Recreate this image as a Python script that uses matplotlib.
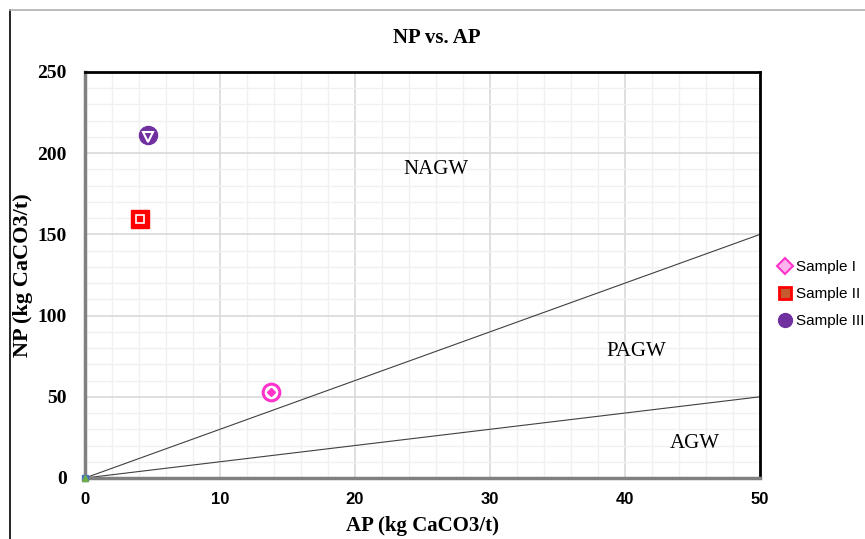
import numpy as np
import matplotlib.pyplot as plt
from matplotlib.lines import Line2D
from matplotlib.ticker import MultipleLocator

# samples (AP, NP)
samples = ['Sample I', 'Sample II', 'Sample III']
ap = [13.8, 4.1, 4.7]
np_vals = [53, 159.5, 211]
colors = ['#FF33CC', '#FF0000', '#7030A0']

# criteria lines: NP/AP = 3 and NP/AP = 1
line_ap = [0, 50]
ratio_hi = 3
ratio_lo = 1

zones = ['NAGW', 'PAGW', 'AGW']
zone_x = [26.0, 40.8, 45.2]
zone_y = [190, 78, 21]

serif = 'Liberation Serif'
sans = 'Liberation Sans'

fig = plt.figure(figsize=(8.65, 5.39), dpi=100)
ax = fig.add_axes([85/865, 1-478/539, 675/865, 406/539])

ax.set_xlim(0, 50)
ax.set_ylim(0, 250)
ax.xaxis.set_major_locator(MultipleLocator(10))
ax.xaxis.set_minor_locator(MultipleLocator(2))
ax.yaxis.set_major_locator(MultipleLocator(50))
ax.yaxis.set_minor_locator(MultipleLocator(10))
ax.grid(which='major', color='#d9d9d9', lw=1.2)
ax.grid(which='minor', color='#f0f0f0', lw=1.0)
ax.set_axisbelow(True)
ax.tick_params(which='both', length=0)
ax.tick_params(axis='x', pad=10)
ax.tick_params(axis='y', pad=13)
for lab in ax.get_xticklabels():
    lab.set_fontfamily(sans)
    lab.set_fontweight('bold')
    lab.set_fontsize(12)
for lab in ax.get_yticklabels():
    lab.set_fontfamily(serif)
    lab.set_fontweight('bold')
    lab.set_fontsize(14)

ax.spines['top'].set_color('black')
ax.spines['right'].set_color('black')
ax.spines['top'].set_linewidth(2)
ax.spines['right'].set_linewidth(2)
ax.spines['left'].set_color('#808080')
ax.spines['bottom'].set_color('#808080')
ax.spines['left'].set_linewidth(2.5)
ax.spines['bottom'].set_linewidth(2.5)

ax.plot(line_ap, [v * ratio_hi for v in line_ap], color='#404040', lw=0.8)
ax.plot(line_ap, [v * ratio_lo for v in line_ap], color='#404040', lw=0.8)
ax.plot([0], [0], marker='s', ms=4, color='#4472C4', clip_on=False, zorder=4)
ax.plot([0], [0], marker='^', ms=4, color='#70AD47', clip_on=False, zorder=4)

# Sample I: ring with diamond centre
ax.plot(ap[0], np_vals[0], marker='o', ms=12, mfc='white', mec=colors[0], mew=2.2, ls='none', zorder=5)
ax.plot(ap[0], np_vals[0], marker='D', ms=4, color=colors[0], ls='none', zorder=6)
# Sample II: rounded red square
ax.plot(ap[1], np_vals[1], marker='s', ms=13, mfc=colors[1], mec=colors[1], ls='none', zorder=5)
ax.plot(ap[1], np_vals[1], marker='s', ms=6, mfc=colors[1], mec='white', mew=1.2, ls='none', zorder=6)
# Sample III: purple disc with white triangle
ax.plot(ap[2], np_vals[2], marker='o', ms=13, color=colors[2], ls='none', zorder=5)
ax.plot(ap[2], np_vals[2] - 1, marker='v', ms=7, mfc=colors[2], mec='white', mew=1.5, ls='none', zorder=6)

for z, zx, zy in zip(zones, zone_x, zone_y):
    ax.text(zx, zy, z, fontfamily=serif, fontsize=15, ha='center', va='center')

fig.text(437/865, 1-38/539, 'NP vs. AP', fontfamily=serif, fontweight='bold',
         fontsize=15, ha='center', va='center')
fig.text(422/865, 1-526/539, 'AP (kg CaCO3/t)', fontfamily=serif, fontweight='bold',
         fontsize=15, ha='center', va='center')
fig.text(23/865, 1-275/539, 'NP (kg CaCO3/t)', fontfamily=serif, fontweight='bold',
         fontsize=16, ha='center', va='center', rotation=90)

# legend
handles = [
    Line2D([], [], marker='D', ms=8, mfc='#FFB3EC', mec=colors[0], mew=1.5, ls='none'),
    Line2D([], [], marker='s', ms=9, mfc='#C65A2E', mec=colors[1], mew=2, ls='none'),
    Line2D([], [], marker='o', ms=10, color=colors[2], ls='none'),
]
fig.legend(handles, samples, loc='center left', bbox_to_anchor=(768/865, 1-294/539),
           frameon=False, prop={'family': sans, 'size': 11}, handletextpad=0.1,
           labelspacing=0.85, handlelength=1.2, borderpad=0)

# outer chart frame
fig.add_artist(Line2D([10/865, 10/865], [0, 1-10/539], color='black', lw=1.2))
fig.add_artist(Line2D([10/865, 1], [1-10/539, 1-10/539], color='#b0b0b0', lw=1.2))

fig.savefig('out.png', dpi=100)
